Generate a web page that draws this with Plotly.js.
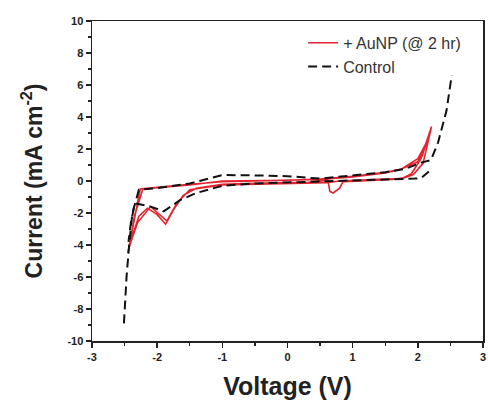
<!DOCTYPE html>
<html>
<head>
<meta charset="utf-8">
<script src="https://cdn.plot.ly/plotly-3.0.1.min.js"></script>
<style>html,body{margin:0;padding:0;background:#fff;}#chart{width:488px;height:402px;}</style>
</head>
<body>
<div id="chart"></div>
<script>
// + AuNP (@ 2 hr) — two CV cycles, voltage (V) and current (mA cm^-2)
const aunpV = [0, 0.5, 1.0, 1.5, 1.75, 2.0, 2.12, 2.21, 2.08, 1.93, 1.8, 1.6, 1.2, 0.85, 0.8, 0.7, 0.65, 0.62, 0.3, 0, -0.5, -1.0, -1.4, -1.6, -1.75, -1.87, -2.0, -2.15, -2.28, -2.38, -2.45, -2.38, -2.3, -2.26, -2.0, -1.5, -1.0, -0.5, 0,
               0.5, 1.0, 1.5, 1.72, 2.0, 2.17, 2.05, 1.9, 1.75, 1.4, 0.8, 0.6, 0, -1.0, -1.5, -1.7, -1.85, -2.1, -2.3, -2.42, -2.35, -2.22, -1.5, -1.0, 0];
const aunpI = [0.05, 0.12, 0.3, 0.55, 0.75, 1.4, 2.3, 3.4, 1.1, 0.4, 0.2, 0.1, 0.02, -0.05, -0.45, -0.75, -0.65, 0.05, -0.1, -0.1, -0.15, -0.2, -0.45, -0.9, -1.8, -2.7, -2.1, -1.7, -2.2, -3.4, -4.5, -3.0, -1.5, -0.5, -0.4, -0.2, -0.05, 0.0, 0.05,
               0.1, 0.25, 0.5, 0.7, 1.2, 2.8, 1.4, 0.45, 0.15, 0.1, 0.0, -0.1, -0.15, -0.25, -0.55, -1.4, -2.5, -1.6, -2.6, -4.0, -2.2, -0.5, -0.25, 0.0, 0.05];

// Control (two segments separated by a gap so the steep parts are drawn once)
const ctrlV = [-2.51, -2.47, -2.43, -2.38, -2.28, -2.0, -1.5, -1.0, -0.5, 0, 0.5, 1.0, 1.5, 1.8, 2.05, 2.2, 2.31, 2.44, 2.52,
               null,
               2.17, 2.05, 1.95, 1.5, 1.0, 0.5, 0, -0.5, -1.0, -1.4, -1.65, -1.9, -2.1, -2.34, -2.4, -2.44];
const ctrlI = [-8.9, -6.0, -4.0, -2.0, -0.55, -0.45, -0.15, 0.37, 0.35, 0.3, 0.15, 0.35, 0.55, 0.75, 1.15, 1.3, 2.4, 4.4, 6.6,
               null,
               0.6, 0.18, 0.15, 0.1, 0.05, -0.05, -0.1, -0.15, -0.3, -0.75, -1.2, -1.9, -1.6, -1.4, -2.5, -3.8];

const xTicks = [-3, -2, -1, 0, 1, 2, 3];
const yTicks = [-10, -8, -6, -4, -2, 0, 2, 4, 6, 8, 10];

const fontFam = '"Liberation Sans", Arial, sans-serif';

const data = [
  {x: aunpV, y: aunpI, mode: 'lines', name: '+ AuNP (@ 2 hr)',
   line: {color: '#e3232f', width: 1.6}},
  {x: ctrlV, y: ctrlI, mode: 'lines', name: 'Control', connectgaps: false,
   line: {color: '#111111', width: 2, dash: '9px,5px'}}
];

const axisCommon = {
  showgrid: false, zeroline: false, showline: true, linecolor: '#222', linewidth: 1.5,
  mirror: true, ticks: 'outside', ticklen: 5, tickwidth: 1.5, tickcolor: '#222',
  tickfont: {family: fontFam, size: 11, color: '#222', weight: 'bold'},
  minor: {ticks: 'outside', ticklen: 3, tickwidth: 1.2, tickcolor: '#222'}
};

const layout = {
  width: 488, height: 402,
  margin: {l: 92, r: 5, t: 21, b: 61},
  paper_bgcolor: '#fff', plot_bgcolor: '#fff',
  showlegend: true,
  legend: {x: 0.54, y: 0.985, xanchor: 'left', yanchor: 'top', bgcolor: 'rgba(0,0,0,0)',
           font: {family: fontFam, size: 16, color: '#333'}, tracegroupgap: 0},
  xaxis: Object.assign({}, axisCommon, {
    range: [-3, 3], tickvals: xTicks, ticktext: xTicks.map(String),
    minor: Object.assign({}, axisCommon.minor, {dtick: 0.5, tick0: 0}),
    title: {text: 'Voltage (V)', font: {family: fontFam, size: 25, color: '#222', weight: 'bold'}, standoff: 16}
  }),
  yaxis: Object.assign({}, axisCommon, {
    range: [-10, 10], tickvals: yTicks, ticktext: yTicks.map(String),
    minor: Object.assign({}, axisCommon.minor, {dtick: 1, tick0: 0}),
    title: {text: 'Current (mA cm<sup>-2</sup>)', font: {family: fontFam, size: 23, color: '#222', weight: 'bold'}, standoff: 18}
  })
};

Plotly.newPlot('chart', data, layout, {displayModeBar: false, staticPlot: true});
</script>
</body>
</html>
